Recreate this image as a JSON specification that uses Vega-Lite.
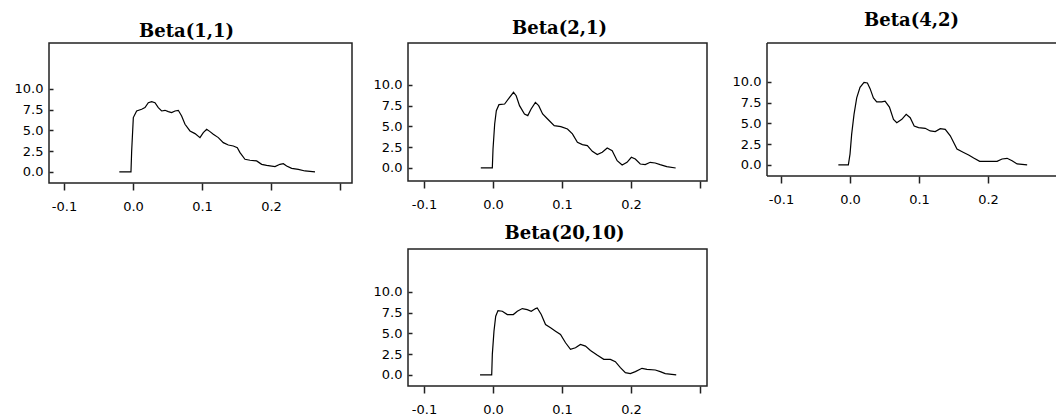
{
  "$schema": "https://vega.github.io/schema/vega-lite/v6.json",
  "padding": {"left": 13, "top": 12, "right": 0, "bottom": 0},
  "background": "white",
  "datasets": {
    "b11": [
      {"x": -0.0198, "y": 0}, {"x": -0.0029, "y": 0}, {"x": -0.0019, "y": 2.53}, {"x": 0.0005, "y": 6.55}, {"x": 0.0053, "y": 7.35}, {"x": 0.0126, "y": 7.55}, {"x": 0.0174, "y": 7.75}, {"x": 0.0222, "y": 8.35}, {"x": 0.0271, "y": 8.47}, {"x": 0.0319, "y": 8.35}, {"x": 0.0367, "y": 7.75}, {"x": 0.0415, "y": 7.35}, {"x": 0.0464, "y": 7.43}, {"x": 0.0512, "y": 7.27}, {"x": 0.056, "y": 7.15}, {"x": 0.0609, "y": 7.35}, {"x": 0.0657, "y": 7.43}, {"x": 0.0705, "y": 6.75}, {"x": 0.0754, "y": 5.74}, {"x": 0.0826, "y": 4.94}, {"x": 0.0899, "y": 4.62}, {"x": 0.0971, "y": 4.14}, {"x": 0.1019, "y": 4.74}, {"x": 0.1068, "y": 5.14}, {"x": 0.1116, "y": 4.86}, {"x": 0.1164, "y": 4.54}, {"x": 0.1237, "y": 4.14}, {"x": 0.1309, "y": 3.53}, {"x": 0.1382, "y": 3.25}, {"x": 0.1454, "y": 3.13}, {"x": 0.1512, "y": 2.93}, {"x": 0.1551, "y": 2.33}, {"x": 0.1623, "y": 1.53}, {"x": 0.1696, "y": 1.41}, {"x": 0.1792, "y": 1.33}, {"x": 0.1865, "y": 0.92}, {"x": 0.1937, "y": 0.8}, {"x": 0.2058, "y": 0.64}, {"x": 0.213, "y": 0.92}, {"x": 0.2179, "y": 1.0}, {"x": 0.2227, "y": 0.72}, {"x": 0.23, "y": 0.44}, {"x": 0.2396, "y": 0.32}, {"x": 0.2493, "y": 0.12}, {"x": 0.2638, "y": 0}
    ],
    "b21": [
      {"x": -0.0177, "y": 0}, {"x": -0.001, "y": 0}, {"x": 0.0, "y": 2.29}, {"x": 0.0024, "y": 5.3}, {"x": 0.0048, "y": 6.9}, {"x": 0.0086, "y": 7.63}, {"x": 0.0168, "y": 7.71}, {"x": 0.024, "y": 8.51}, {"x": 0.0297, "y": 9.12}, {"x": 0.0336, "y": 8.71}, {"x": 0.0384, "y": 7.51}, {"x": 0.0456, "y": 6.51}, {"x": 0.0504, "y": 6.31}, {"x": 0.0552, "y": 7.11}, {"x": 0.0614, "y": 7.91}, {"x": 0.0662, "y": 7.51}, {"x": 0.0719, "y": 6.51}, {"x": 0.0791, "y": 5.9}, {"x": 0.0887, "y": 5.1}, {"x": 0.0983, "y": 4.98}, {"x": 0.1079, "y": 4.7}, {"x": 0.1151, "y": 4.1}, {"x": 0.1223, "y": 3.09}, {"x": 0.1295, "y": 2.81}, {"x": 0.1367, "y": 2.69}, {"x": 0.1439, "y": 2.01}, {"x": 0.1511, "y": 1.61}, {"x": 0.1583, "y": 1.89}, {"x": 0.1655, "y": 2.41}, {"x": 0.1727, "y": 2.09}, {"x": 0.1799, "y": 0.88}, {"x": 0.1871, "y": 0.36}, {"x": 0.1942, "y": 0.68}, {"x": 0.2005, "y": 1.29}, {"x": 0.2062, "y": 1.08}, {"x": 0.2134, "y": 0.48}, {"x": 0.2206, "y": 0.4}, {"x": 0.2278, "y": 0.68}, {"x": 0.235, "y": 0.6}, {"x": 0.2422, "y": 0.4}, {"x": 0.2518, "y": 0.16}, {"x": 0.2647, "y": 0}
    ],
    "b42": [
      {"x": -0.0169, "y": 0}, {"x": -0.0024, "y": 0}, {"x": 0.0, "y": 1.31}, {"x": 0.0024, "y": 3.71}, {"x": 0.0058, "y": 6.1}, {"x": 0.0097, "y": 8.09}, {"x": 0.0145, "y": 9.36}, {"x": 0.0203, "y": 9.96}, {"x": 0.0252, "y": 9.88}, {"x": 0.0291, "y": 9.2}, {"x": 0.0339, "y": 8.09}, {"x": 0.0387, "y": 7.61}, {"x": 0.046, "y": 7.61}, {"x": 0.0508, "y": 7.69}, {"x": 0.0571, "y": 6.97}, {"x": 0.063, "y": 5.5}, {"x": 0.0678, "y": 5.1}, {"x": 0.0751, "y": 5.5}, {"x": 0.0814, "y": 6.1}, {"x": 0.0872, "y": 5.7}, {"x": 0.093, "y": 4.7}, {"x": 0.0993, "y": 4.5}, {"x": 0.109, "y": 4.42}, {"x": 0.1162, "y": 4.1}, {"x": 0.1235, "y": 4.02}, {"x": 0.1308, "y": 4.38}, {"x": 0.138, "y": 4.3}, {"x": 0.1453, "y": 3.51}, {"x": 0.155, "y": 1.91}, {"x": 0.1646, "y": 1.51}, {"x": 0.1719, "y": 1.2}, {"x": 0.1792, "y": 0.84}, {"x": 0.1879, "y": 0.44}, {"x": 0.1985, "y": 0.44}, {"x": 0.2131, "y": 0.44}, {"x": 0.2203, "y": 0.72}, {"x": 0.2276, "y": 0.8}, {"x": 0.2349, "y": 0.52}, {"x": 0.2421, "y": 0.12}, {"x": 0.2567, "y": 0}
    ],
    "b2010": [
      {"x": -0.0188, "y": 0}, {"x": -0.0019, "y": 0}, {"x": -0.001, "y": 2.48}, {"x": 0.0014, "y": 5.28}, {"x": 0.0039, "y": 7.08}, {"x": 0.0072, "y": 7.76}, {"x": 0.0135, "y": 7.68}, {"x": 0.0207, "y": 7.28}, {"x": 0.0294, "y": 7.28}, {"x": 0.0352, "y": 7.68}, {"x": 0.0424, "y": 8.0}, {"x": 0.0496, "y": 7.88}, {"x": 0.0554, "y": 7.68}, {"x": 0.0617, "y": 8.0}, {"x": 0.0641, "y": 8.08}, {"x": 0.0699, "y": 7.28}, {"x": 0.0761, "y": 6.08}, {"x": 0.0834, "y": 5.68}, {"x": 0.0906, "y": 5.28}, {"x": 0.0978, "y": 4.88}, {"x": 0.1051, "y": 3.88}, {"x": 0.1123, "y": 3.08}, {"x": 0.1195, "y": 3.28}, {"x": 0.1267, "y": 3.68}, {"x": 0.134, "y": 3.48}, {"x": 0.1412, "y": 2.96}, {"x": 0.1508, "y": 2.4}, {"x": 0.1605, "y": 1.88}, {"x": 0.1701, "y": 1.88}, {"x": 0.1773, "y": 1.6}, {"x": 0.1846, "y": 0.88}, {"x": 0.1918, "y": 0.28}, {"x": 0.199, "y": 0.16}, {"x": 0.2063, "y": 0.4}, {"x": 0.2159, "y": 0.8}, {"x": 0.2231, "y": 0.68}, {"x": 0.2352, "y": 0.6}, {"x": 0.2424, "y": 0.4}, {"x": 0.2496, "y": 0.16}, {"x": 0.2655, "y": 0}
    ]
  },
  "columns": 3,
  "bounds": "flush",
  "align": "all",
  "spacing": {"row": 66, "column": 56},
  "concat": [
    {
      "title": {"text": "Beta(1,1)", "dx": -14, "offset": 2},
      "width": 303, "height": 140,
      "data": {"name": "b11"},
      "mark": {"type": "line", "color": "#000", "strokeWidth": 1.2},
      "encoding": {
        "x": {"field": "x", "type": "quantitative", "scale": {"domain": [-0.1217, 0.3174], "nice": false, "zero": false}, "axis": {"values": [-0.1, 0, 0.1, 0.2, 0.3]}},
        "y": {"field": "y", "type": "quantitative", "scale": {"domain": [-1.33, 15.54], "nice": false, "zero": false}, "axis": {"values": [0, 2.5, 5, 7.5, 10]}}
      }
    },
    {
      "title": {"text": "Beta(2,1)", "dx": 2, "offset": 5},
      "width": 299, "height": 138,
      "data": {"name": "b21"},
      "mark": {"type": "line", "color": "#000", "strokeWidth": 1.2},
      "encoding": {
        "x": {"field": "x", "type": "quantitative", "scale": {"domain": [-0.1232, 0.3101], "nice": false, "zero": false}, "axis": {"values": [-0.1, 0, 0.1, 0.2, 0.3]}},
        "y": {"field": "y", "type": "quantitative", "scale": {"domain": [-1.57, 15.06], "nice": false, "zero": false}, "axis": {"values": [0, 2.5, 5, 7.5, 10]}}
      }
    },
    {
      "title": {"text": "Beta(4,2)", "dx": 0, "offset": 12},
      "width": 289, "height": 133,
      "view": {"stroke": null},
      "data": {"name": "b42"},
      "encoding": {
        "x": {"field": "x", "type": "quantitative", "scale": {"domain": [-0.1203, 0.2985], "nice": false, "zero": false}, "axis": {"values": [-0.1, 0, 0.1, 0.2, 0.3]}},
        "y": {"field": "y", "type": "quantitative", "scale": {"domain": [-1.33, 14.7], "nice": false, "zero": false}, "axis": {"values": [0, 2.5, 5, 7.5, 10]}}
      },
      "layer": [
        {"mark": {"type": "line", "color": "#000", "strokeWidth": 1.2}},
        {"data": {"values": [{"edge": 14.7}, {"edge": -1.33}]}, "mark": {"type": "rule", "color": "#222", "strokeWidth": 1.5}, "encoding": {"x": null, "y": {"field": "edge", "type": "quantitative"}}},
        {"data": {"values": [{"edge": -0.1203}]}, "mark": {"type": "rule", "color": "#222", "strokeWidth": 1.5}, "encoding": {"y": null, "x": {"field": "edge", "type": "quantitative"}}}
      ]
    },
    {"width": 1, "height": 1, "view": {"stroke": null}, "data": {"values": []}, "mark": {"type": "point", "opacity": 0}},
    {
      "title": {"text": "Beta(20,10)", "dx": 7, "offset": 6},
      "width": 299, "height": 137,
      "data": {"name": "b2010"},
      "mark": {"type": "line", "color": "#000", "strokeWidth": 1.2},
      "encoding": {
        "x": {"field": "x", "type": "quantitative", "scale": {"domain": [-0.1232, 0.3101], "nice": false, "zero": false}, "axis": {"values": [-0.1, 0, 0.1, 0.2, 0.3]}},
        "y": {"field": "y", "type": "quantitative", "scale": {"domain": [-1.33, 15.18], "nice": false, "zero": false}, "axis": {"values": [0, 2.5, 5, 7.5, 10]}}
      }
    }
  ],
  "config": {
    "view": {"stroke": "#222", "strokeWidth": 1.5},
    "title": {"font": "DejaVu Serif", "fontSize": 18, "fontWeight": "bold", "color": "#000", "anchor": "middle"},
    "axis": {"grid": false, "domain": false, "title": null, "labelFont": "DejaVu Sans", "labelFontSize": 13, "labelColor": "#000", "tickColor": "#222", "tickWidth": 1.5},
    "axisX": {"tickSize": 7, "labelPadding": 10, "labelExpr": "datum.value > 0.25 ? '' : replace(datum.label, '\u2212', '-')", "format": ".1f", "labelFlush": false},
    "axisY": {"offset": -4, "tickSize": 4, "labelPadding": 6, "format": ".1f", "labelFlush": false}
  }
}
